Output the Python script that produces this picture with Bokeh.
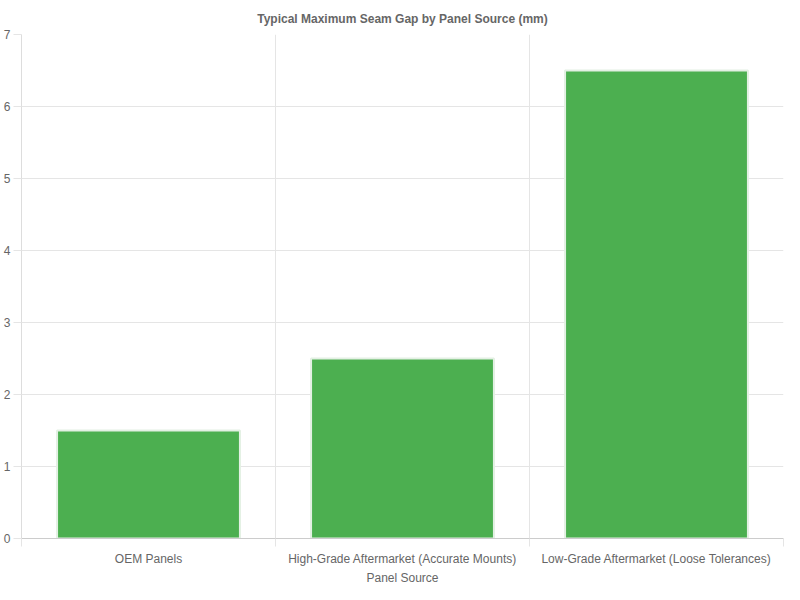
from bokeh.plotting import figure
from bokeh.models import ColumnDataSource, FixedTicker, Range1d, Title
from bokeh.embed import file_html
from bokeh.resources import INLINE

categories = ["OEM Panels",
              "High-Grade Aftermarket (Accurate Mounts)",
              "Low-Grade Aftermarket (Loose Tolerances)"]
max_gap_mm = [1.5, 2.5, 6.5]
y_ticks = [0, 1, 2, 3, 4, 5, 6, 7]

FONT = "Liberation Sans"
TEXT = "#666666"
GRID = "#e5e5e5"

# bars sit in the middle of each category slot, as in the original
centers = [i + 0.5 for i in range(len(categories))]
source = ColumnDataSource(data=dict(x=centers, top=max_gap_mm, name=categories))

p = figure(width=784, height=584, output_backend="svg", toolbar_location=None,
           x_range=Range1d(0, len(categories)), y_range=Range1d(0, 7),
           title="Typical Maximum Seam Gap by Panel Source (mm)")
p.min_border_left = 0
p.min_border_right = 1
p.min_border_top = 8
p.min_border_bottom = 0
p.outline_line_color = None

p.title.align = "center"
p.title.text_font = FONT
p.title.text_font_size = "12px"
p.title.text_font_style = "bold"
p.title.text_color = TEXT
p.title.standoff = 18

p.vbar(x="x", top="top", width=0.72, bottom=0, source=source,
       fill_color="#4caf50", line_color="#e3f0e3", line_width=2)

# x axis: labels at slot centres, tick marks at slot edges
xt = FixedTicker(ticks=centers, minor_ticks=list(range(len(categories) + 1)))
p.xaxis.ticker = xt
p.xaxis.major_label_overrides = {c: n for c, n in zip(centers, categories)}
p.xaxis.major_tick_line_color = None
p.xaxis.major_tick_in = 0
p.xaxis.major_tick_out = 0
p.xaxis.minor_tick_line_color = GRID
p.xaxis.minor_tick_in = 0
p.xaxis.minor_tick_out = 8
p.xaxis.axis_line_color = "#cccccc"
p.xgrid.ticker = FixedTicker(ticks=list(range(len(categories) + 1)))

# axis title as a plain title under the axis, it takes less room
x_title = Title(text="Panel Source", align="center", text_font=FONT,
                text_font_size="12px", text_font_style="normal",
                text_color=TEXT, standoff=0, offset=0)
p.add_layout(x_title, "below")

p.yaxis.ticker = FixedTicker(ticks=y_ticks)
p.yaxis.minor_tick_line_color = None
p.yaxis.major_tick_in = 0
p.yaxis.major_tick_out = 8
p.yaxis.major_tick_line_color = GRID
p.yaxis.axis_line_color = "#dddddd"
p.yaxis.major_label_standoff = 3

for ax in (p.xaxis, p.yaxis):
    ax.major_label_text_font = FONT
    ax.major_label_text_font_size = "12px"
    ax.major_label_text_color = TEXT
p.xaxis.major_label_standoff = 5

p.grid.grid_line_color = GRID

open("out.html", "w").write(file_html(p, INLINE))
